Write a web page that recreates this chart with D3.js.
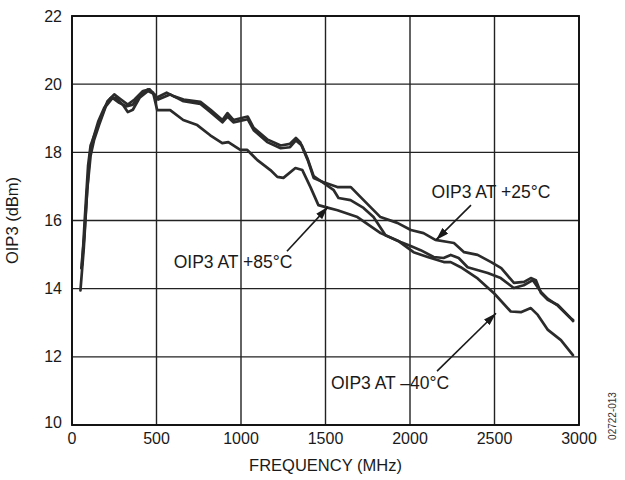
<!DOCTYPE html>
<html>
<head>
<meta charset="utf-8">
<script src="https://cdn.jsdelivr.net/npm/d3@7"></script>
<style>
  body { margin: 0; background: #fff; }
  svg { font-family: "Liberation Sans", Arial, Helvetica, sans-serif; }
  .grid line { stroke: #222; stroke-width: 1.4; }
  .tick-label { font-size: 16px; fill: #1a1a1a; }
  .axis-title { font-size: 16.5px; fill: #1a1a1a; }
  .note { font-size: 17.5px; fill: #1a1a1a; }
  .curve { fill: none; stroke: #2b2b2b; stroke-width: 2.7; stroke-linejoin: round; stroke-linecap: round; }
</style>
</head>
<body>
<svg id="chart" width="625" height="480"></svg>
<script>
const xTicks = [0, 500, 1000, 1500, 2000, 2500, 3000];
const yTicks = [10, 12, 14, 16, 18, 20, 22];

// OIP3 (dBm) vs frequency (MHz)
const oip3p25 = [
  [60, 14.7], [75, 16.0], [95, 17.6], [110, 18.2], [140, 18.6], [170, 19.0], [210, 19.5],
  [250, 19.7], [290, 19.55], [330, 19.4], [370, 19.55], [420, 19.8], [460, 19.85], [500, 19.6],
  [560, 19.75], [600, 19.65], [660, 19.55], [760, 19.48], [820, 19.25], [890, 18.95], [920, 19.15],
  [955, 18.95], [1040, 19.05], [1075, 18.72], [1155, 18.38], [1235, 18.2], [1290, 18.25],
  [1325, 18.42], [1350, 18.3], [1395, 17.77], [1430, 17.25], [1485, 17.13], [1570, 16.98],
  [1650, 16.98], [1705, 16.7], [1765, 16.4], [1825, 16.1], [1925, 15.93], [2005, 15.72],
  [2080, 15.63], [2150, 15.43], [2225, 15.37], [2260, 15.34], [2320, 15.07], [2400, 14.99],
  [2480, 14.78], [2540, 14.6], [2615, 14.17], [2675, 14.2], [2715, 14.31], [2745, 14.25],
  [2775, 13.87], [2815, 13.67], [2875, 13.52], [2950, 13.14], [2965, 13.08]
];
const oip3p85 = [
  [55, 14.6], [72, 15.5], [90, 16.9], [110, 17.9], [130, 18.35], [160, 18.8], [200, 19.35],
  [240, 19.6], [280, 19.45], [320, 19.35], [360, 19.4], [400, 19.65], [450, 19.85], [480, 19.75],
  [504, 19.24], [581, 19.24], [658, 18.95], [741, 18.8], [818, 18.5], [889, 18.27], [925, 18.3],
  [996, 18.07], [1037, 18.07], [1097, 17.77], [1174, 17.48], [1215, 17.28], [1251, 17.25],
  [1322, 17.54], [1363, 17.48], [1411, 16.98], [1458, 16.45], [1517, 16.37], [1571, 16.3],
  [1689, 16.1], [1826, 15.63], [1944, 15.37], [2004, 15.25], [2063, 15.13], [2140, 14.93],
  [2199, 14.9], [2241, 14.99], [2288, 14.9], [2341, 14.63], [2460, 14.46], [2537, 14.31],
  [2614, 14.02], [2673, 14.1], [2727, 14.25], [2775, 13.9], [2816, 13.7], [2875, 13.5],
  [2952, 13.12], [2965, 13.05]
];
const oip3m40 = [
  [50, 13.95], [70, 15.2], [90, 16.9], [105, 17.9], [125, 18.4], [155, 18.9], [190, 19.3],
  [230, 19.6], [260, 19.6], [300, 19.4], [330, 19.18], [360, 19.25], [400, 19.6], [450, 19.8],
  [490, 19.7], [510, 19.55], [580, 19.7], [660, 19.5], [760, 19.42], [820, 19.18], [890, 18.88],
  [920, 19.05], [955, 18.88], [1040, 18.97], [1075, 18.65], [1155, 18.3], [1235, 18.12],
  [1290, 18.15], [1325, 18.35], [1360, 18.2], [1395, 17.8], [1430, 17.3], [1488, 17.1],
  [1547, 16.9], [1577, 16.66], [1648, 16.6], [1725, 16.37], [1784, 16.1], [1855, 15.57],
  [1930, 15.4], [2021, 15.07], [2104, 14.93], [2200, 14.78], [2241, 14.78], [2300, 14.63],
  [2400, 14.3], [2500, 13.85], [2596, 13.33], [2656, 13.31], [2715, 13.43], [2756, 13.23],
  [2816, 12.79], [2893, 12.49], [2964, 12.05]
];

// callouts: label anchor, arrow start, arrow tip (data units)
const notes = [
  { text: "OIP3 AT +25°C", at: [2479, 16.84], from: [2361, 16.45], to: [2154, 15.43] },
  { text: "OIP3 AT +85°C", at: [953, 14.78], from: [1272, 15.1], to: [1515, 16.4] },
  { text: "OIP3 AT \u201340°C", at: [1882, 11.23], from: [2160, 11.58], to: [2509, 13.28] }
];

const margin = { top: 16, right: 46, bottom: 55, left: 72 };
const width = 625 - margin.left - margin.right;
const height = 480 - margin.top - margin.bottom;

const svg = d3.select("#chart");
const g = svg.append("g").attr("transform", `translate(${margin.left},${margin.top})`);

const x = d3.scaleLinear().domain([0, 3000]).range([0, width]);
const y = d3.scaleLinear().domain([10, 22]).range([height, 0]);

// grid
g.append("g").attr("class", "grid")
  .selectAll("line.v").data(xTicks).join("line")
  .attr("x1", d => x(d)).attr("x2", d => x(d))
  .attr("y1", 0).attr("y2", height);
g.append("g").attr("class", "grid")
  .selectAll("line.h").data(yTicks).join("line")
  .attr("x1", 0).attr("x2", width)
  .attr("y1", d => y(d)).attr("y2", d => y(d));
g.append("rect")
  .attr("width", width).attr("height", height)
  .attr("fill", "none").attr("stroke", "#111").attr("stroke-width", 1.9);

// tick labels
g.selectAll("text.ylab").data(yTicks).join("text")
  .attr("class", "tick-label")
  .attr("x", -10)
  .attr("y", d => y(d) - (d === 10 ? 3 : 0))
  .attr("dy", "0.35em")
  .attr("text-anchor", "end")
  .text(d => d);
g.selectAll("text.xlab").data(xTicks).join("text")
  .attr("class", "tick-label")
  .attr("x", d => x(d))
  .attr("y", height + 19)
  .attr("text-anchor", "middle")
  .text(d => d);

g.append("text")
  .attr("class", "axis-title")
  .attr("x", width / 2)
  .attr("y", height + 46)
  .attr("text-anchor", "middle")
  .text("FREQUENCY (MHz)");
g.append("text")
  .attr("class", "axis-title")
  .attr("transform", `translate(${-54},${y(16)}) rotate(-90)`)
  .attr("text-anchor", "middle")
  .text("OIP3 (dBm)");

svg.append("text")
  .attr("transform", "translate(616,416) rotate(-90)")
  .attr("text-anchor", "middle")
  .attr("font-size", "10px")
  .attr("fill", "#333")
  .text("02722-013");

// curves
const line = d3.line().x(d => x(d[0])).y(d => y(d[1]));
[oip3m40, oip3p85, oip3p25].forEach(s => {
  g.append("path").datum(s).attr("class", "curve").attr("d", line);
});

// callouts
svg.append("defs").append("marker")
  .attr("id", "head")
  .attr("viewBox", "0 0 13 8")
  .attr("refX", 13).attr("refY", 4)
  .attr("markerWidth", 13).attr("markerHeight", 8)
  .attr("markerUnits", "userSpaceOnUse")
  .attr("orient", "auto")
  .append("path").attr("d", "M0,0L13,4L0,8Z").attr("fill", "#1a1a1a");

notes.forEach(n => {
  g.append("line")
    .attr("x1", x(n.from[0])).attr("y1", y(n.from[1]))
    .attr("x2", x(n.to[0])).attr("y2", y(n.to[1]))
    .attr("stroke", "#1a1a1a").attr("stroke-width", 1.6)
    .attr("marker-end", "url(#head)");
  g.append("text")
    .attr("class", "note")
    .attr("x", x(n.at[0])).attr("y", y(n.at[1]))
    .attr("dy", "0.35em")
    .attr("text-anchor", "middle")
    .text(n.text);
});
</script>
</body>
</html>
